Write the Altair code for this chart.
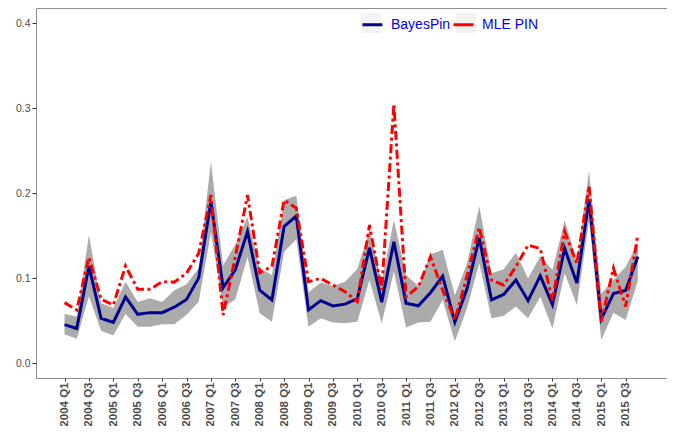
import altair as alt
import pandas as pd

years = list(range(2004, 2016))
quarters = [f"{y} Q{q}" for y in years for q in range(1, 5)]

bayes = [0.0455, 0.041, 0.114, 0.053, 0.048, 0.078, 0.0576, 0.0596, 0.0596, 0.066,
         0.075, 0.1005, 0.190, 0.089, 0.110, 0.155, 0.086, 0.0745, 0.161, 0.1733,
         0.0627, 0.0737, 0.0675, 0.0696, 0.076, 0.1357, 0.072, 0.143, 0.0706, 0.0676,
         0.083, 0.1024, 0.0485, 0.088, 0.1475, 0.0745, 0.081, 0.098, 0.0737, 0.1029,
         0.069, 0.135, 0.0945, 0.1925, 0.052, 0.082, 0.0856, 0.1255]

mle = [0.0714, 0.0627, 0.1247, 0.0753, 0.0686, 0.1145, 0.087, 0.087, 0.096, 0.0955,
       0.1059, 0.1294, 0.198, 0.0568, 0.125, 0.198, 0.1066, 0.1137, 0.192, 0.1824,
       0.096, 0.0999, 0.092, 0.0843, 0.0725, 0.1627, 0.0862, 0.305, 0.0784, 0.090,
       0.1254, 0.086, 0.051, 0.103, 0.16, 0.098, 0.092, 0.1137, 0.139, 0.135,
       0.074, 0.155, 0.1176, 0.2086, 0.049, 0.112, 0.0667, 0.151]

upper = [0.058, 0.055, 0.151, 0.0706, 0.065, 0.096, 0.072, 0.0765, 0.072, 0.086,
         0.093, 0.112, 0.237, 0.115, 0.140, 0.172, 0.112, 0.104, 0.192, 0.197,
         0.0835, 0.095, 0.091, 0.096, 0.111, 0.157, 0.096, 0.1686, 0.104, 0.091,
         0.128, 0.1335, 0.080, 0.1176, 0.185, 0.106, 0.1106, 0.130, 0.100, 0.126,
         0.110, 0.168, 0.1196, 0.2265, 0.082, 0.098, 0.1137, 0.142]

lower = [0.034, 0.029, 0.079, 0.038, 0.033, 0.058, 0.043, 0.043, 0.046, 0.046,
         0.057, 0.0725, 0.154, 0.066, 0.075, 0.125, 0.059, 0.049, 0.131, 0.146,
         0.043, 0.053, 0.048, 0.047, 0.049, 0.098, 0.047, 0.108, 0.042, 0.048,
         0.049, 0.0745, 0.0255, 0.065, 0.1176, 0.053, 0.0557, 0.0667, 0.053, 0.0784,
         0.041, 0.106, 0.0686, 0.168, 0.0275, 0.0596, 0.051, 0.097]

series_names = ["BayesPin", "MLE PIN"]
series_colors = ["#00008B", "#FF0000"]
y_ticks = [0.0, 0.1, 0.2, 0.3, 0.4]

n = len(quarters)
idx = list(range(n))
band_df = pd.DataFrame({"i": idx, "quarter": quarters, "lower": lower, "upper": upper})
line_df = pd.DataFrame({
    "i": idx + idx,
    "value": bayes + mle,
    "series": [series_names[0]] * n + [series_names[1]] * n,
})

label_js = "[" + ",".join(f"'{q}'" for q in quarters) + "]"

x_scale = alt.Scale(domain=[-2.34, 49.39], nice=False, zero=False)
y_scale = alt.Scale(domain=[-0.0173, 0.418], nice=False, zero=False)

x_axis = alt.Axis(
    title=None, values=list(range(0, n, 2)), labelExpr=f"{label_js}[datum.value]",
    labelAngle=270, labelFontWeight="bold", labelFontSize=11.5, labelColor="#4D4D4D",
    labelFont="Liberation Sans", tickSize=3, tickColor="#333333", labelPadding=1,
    grid=False, domain=False, labelOverlap=False, labelFlush=False, labelBound=False,
)
y_axis = alt.Axis(
    title=None, values=y_ticks, format=".1f", labelFontSize=10.5, labelColor="#4D4D4D",
    labelFont="Liberation Sans", tickSize=4, tickColor="#333333", labelPadding=2,
    grid=False, domain=False,
)

common_legend = dict(
    orient="none", legendX=325, legendY=5, direction="horizontal", title=None,
    symbolSize=400, labelFontSize=14, labelFont="Liberation Sans", labelOffset=7,
    padding=0, labelColor="#0000FF", gridAlign="all",
)

key_bg = alt.Chart(line_df).transform_filter("false").mark_square(size=400, opacity=1).encode(
    fill=alt.Fill(
        "series:N",
        scale=alt.Scale(domain=series_names, range=["#F2F2F2", "#F2F2F2"]),
        legend=alt.Legend(symbolType="square", symbolStrokeWidth=0, symbolOpacity=1,
                          labelOpacity=0, columnPadding=8, **common_legend),
    )
)

band = alt.Chart(band_df).mark_area(color="#ABABAB", opacity=1).encode(
    x=alt.X("i:Q", scale=x_scale, axis=x_axis),
    y=alt.Y("lower:Q", scale=y_scale, axis=y_axis),
    y2="upper:Q",
)

stroke_enc = alt.Stroke(
    "series:N",
    scale=alt.Scale(range=series_colors),
    legend=alt.Legend(symbolType="stroke", symbolStrokeWidth=3, symbolOpacity=1,
                      columnPadding=-4, **common_legend),
)

blue = alt.Chart(line_df).transform_filter(alt.datum.series == series_names[0]).mark_line(
    strokeWidth=3
).encode(
    x=alt.X("i:Q", scale=x_scale, axis=x_axis),
    y=alt.Y("value:Q", scale=y_scale, axis=y_axis),
    stroke=stroke_enc,
)

red = alt.Chart(line_df).transform_filter(alt.datum.series == series_names[1]).mark_line(
    strokeWidth=3, strokeDash=[9, 3.5, 3, 3.5]
).encode(
    x=alt.X("i:Q", scale=x_scale, axis=x_axis),
    y=alt.Y("value:Q", scale=y_scale, axis=y_axis),
    stroke=stroke_enc,
)

chart = alt.layer(key_bg, band, blue, red).properties(
    width=631, height=370,
    autosize=alt.AutoSizeParams(type="none"),
    padding={"left": 28, "top": 0, "right": 0, "bottom": 48},
    background="white",
).configure_view(stroke="#8F8F8F", strokeWidth=1)

chart.save("out.html", embed_options={"renderer": "svg", "actions": False})
